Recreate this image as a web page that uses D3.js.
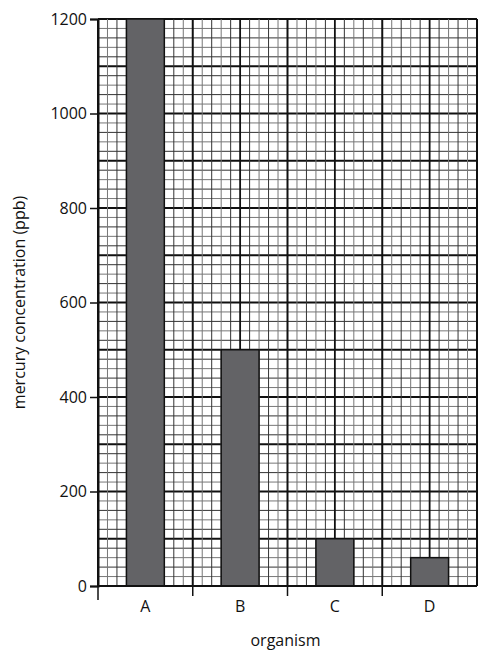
<!DOCTYPE html>
<html><head><meta charset="utf-8">
<script src="https://cdn.jsdelivr.net/npm/d3@7"></script>
<style>body{margin:0;background:#fff}text{font-family:"Open Sans",sans-serif;fill:#111}</style>
</head><body><svg id="chart" width="495" height="653"></svg>
<script>
var organismes = ["A", "B", "C", "D"];
var mercure = [1200, 500, 100, 60];
var graduations = [0, 200, 400, 600, 800, 1000, 1200];

var gauche = 98, droite = 477, haut = 19, bas = 586;
var svg = d3.select("#chart");

var y = d3.scaleLinear().domain([0, 1200]).range([bas, haut]);
var x = d3.scaleBand().domain(organismes).range([gauche, droite]).padding(0);
// grille en petits carreaux: 40 colonnes, 60 rangées
var xg = d3.scaleLinear().domain([0, 40]).range([gauche, droite]);

var grille = svg.append("g");
d3.range(0, 61).forEach(function(i) {
    var v = i * 20;
    grille.append("line").attr("x1", gauche).attr("x2", droite).attr("y1", y(v)).attr("y2", y(v))
        .attr("stroke", i % 5 == 0 ? "#111" : (i % 2 ? "#777" : "#333"))
        .attr("stroke-width", i % 5 == 0 ? 1.8 : 1);
});
d3.range(0, 41).forEach(function(i) {
    grille.append("line").attr("x1", xg(i)).attr("x2", xg(i)).attr("y1", haut).attr("y2", bas)
        .attr("stroke", i % 5 == 0 ? "#111" : (i % 2 ? "#777" : "#333"))
        .attr("stroke-width", i % 10 == 0 ? 2 : (i % 5 == 0 ? 1.8 : 1));
});

// barres: 4 carreaux de large, décalées de 3 carreaux dans chaque bande
var carreau = x.bandwidth() / 10;
svg.append("g").selectAll("rect").data(mercure).enter().append("rect")
    .attr("x", function(d, i) { return x(organismes[i]) + 3 * carreau; })
    .attr("width", 4 * carreau)
    .attr("y", function(d) { return y(d); })
    .attr("height", function(d) { return bas - y(d); })
    .attr("fill", "#636366").attr("stroke", "#111").attr("stroke-width", 1.5);

// axe y
var axeY = svg.append("g").attr("transform", "translate(" + gauche + ",0)")
    .call(d3.axisLeft(y).tickValues(graduations).tickFormat(d3.format("d")).tickSize(8).tickPadding(3));
axeY.select(".domain").attr("stroke", "#111").attr("stroke-width", 2);
axeY.selectAll("line").attr("stroke", "#111").attr("stroke-width", 1.5);
axeY.selectAll("text").style("font-size", "16px").attr("fill", "#111");

// axe x
var axeX = svg.append("g").attr("transform", "translate(0," + bas + ")");
axeX.append("line").attr("x1", gauche).attr("x2", droite).attr("stroke", "#111").attr("stroke-width", 2);
x.domain().forEach(function(o, i) {
    axeX.append("line").attr("x1", x(o)).attr("x2", x(o)).attr("y1", 0).attr("y2", i == 0 ? 14 : 10)
        .attr("stroke", "#111").attr("stroke-width", 1.5);
    axeX.append("text").attr("x", x(o) + x.bandwidth() / 2).attr("y", 26)
        .attr("text-anchor", "middle").style("font-size", "16px").text(o);
});

svg.append("text").attr("x", (gauche + droite) / 2 - 2).attr("y", 646).attr("text-anchor", "middle")
    .style("font-size", "16px").text("organism");
svg.append("text").attr("transform", "translate(25," + ((haut + bas) / 2) + ") rotate(-90)")
    .attr("text-anchor", "middle").style("font-size", "16px").text("mercury concentration (ppb)");
</script></body></html>
